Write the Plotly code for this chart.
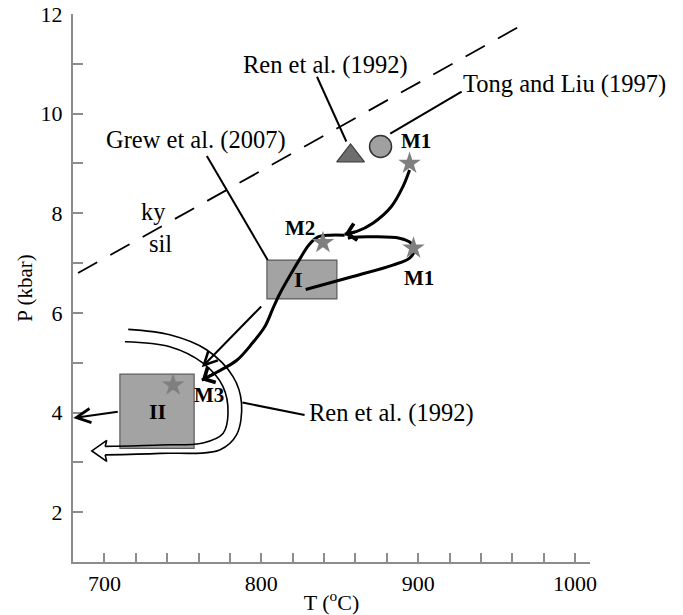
import plotly.graph_objects as go

# ---------------- data (T in °C, P in kbar) ----------------
x_major = [700, 800, 900, 1000]
x_minor = [720, 740, 760, 780, 820, 840, 860, 880, 920, 940, 960, 980]
y_major = [2, 4, 6, 8, 10, 12]
y_minor = [3, 5, 7, 9, 11]

ky_sil_T = [683.2, 969.6]
ky_sil_P = [6.80, 11.84]

box_I_T = [803.6, 848.2]
box_I_P = [6.28, 7.06]
box_II_T = [709.9, 757.2]
box_II_P = [3.28, 4.77]

star_T = [894.5, 897.0, 839.3, 743.8]
star_P = [9.00, 7.30, 7.41, 4.55]
star_names = ["M1", "M1", "M2", "M3"]
star_label_T = [898.9, 900.2, 824.9, 766.5]
star_label_P = [9.45, 6.71, 7.71, 4.35]

ren_tri_T = [856.9]
ren_tri_P = [9.15]
tong_T = [876.0]
tong_P = [9.34]

# leader lines
ren_lead_T = [835.5, 854.2]
ren_lead_P = [10.74, 9.44]
tong_lead_T = [882.2, 927.7]
tong_lead_P = [9.60, 10.44]
grew_lead_T = [765.3, 804.1]
grew_lead_P = [9.15, 7.06]
ren2_lead_T = [788.0, 827.6]
ren2_lead_P = [4.20, 3.95]

# P-T path segments
p1_T = [894.5, 890.2, 882.8, 871.1, 860.5, 853.1]
p1_P = [8.87, 8.53, 8.13, 7.80, 7.63, 7.58]
loop_T = [828.3, 858.4, 883.8, 894.5, 897.6, 895.5, 888.1, 871.1, 858.4, 855.2]
loop_P = [6.47, 6.73, 6.96, 7.10, 7.26, 7.40, 7.50, 7.53, 7.52, 7.50]
s_T = [853.1, 843.5, 835.9, 830.2, 824.5, 818.1, 811.7, 807.3, 802.2, 794.5, 784.4, 771.6, 762.1]
s_P = [7.56, 7.56, 7.52, 7.36, 7.08, 6.74, 6.38, 6.08, 5.72, 5.40, 5.05, 4.81, 4.65]
thin_T = [800.9, 762.1]
thin_P = [6.16, 4.91]
left_T = [709.5, 680.2]
left_P = [4.02, 3.89]

# Ren et al. (1992) hollow path
ren_out_T = [715.2, 741.7, 765.1, 782.0, 787.4, 784.2, 773.5, 735.4, 700.5]
ren_out_P = [5.67, 5.56, 5.26, 4.72, 4.19, 3.55, 3.25, 3.18, 3.15]
ren_in_T = [713.1, 741.7, 762.9, 775.6, 778.8, 775.6, 762.9, 735.4, 700.5]
ren_in_P = [5.42, 5.32, 4.99, 4.52, 3.98, 3.58, 3.39, 3.35, 3.32]
ren_head_T = [700.5, 701.5, 692.0, 701.5, 700.5]
ren_head_P = [3.32, 3.44, 3.23, 3.02, 3.15]

labels = [
    ("Ren et al. (1992)", 840.9, 10.98, "center"),
    ("Tong and Liu (1997)", 993.1, 10.60, "center"),
    ("Grew et al. (2007)", 758.3, 9.47, "center"),
    ("ky", 731.5, 8.04, "center"),
    ("sil", 736.0, 7.40, "center"),
    ("Ren et al. (1992)", 828.9, 3.99, "left"),
]
roman = [("I", 824.0, 6.68), ("II", 734.1, 4.02)]

# ---------------- figure ----------------
FONT = "Liberation Serif"
AX = "#8c8c8c"
fig = go.Figure()

for (t, p) in [(box_I_T, box_I_P), (box_II_T, box_II_P)]:
    fig.add_shape(type="rect", xref="x", yref="y", x0=t[0], x1=t[1], y0=p[0], y1=p[1],
                  fillcolor="#a3a3a3", line=dict(color="#5a5a5a", width=1.2), layer="below")

def line(t, p, width=2, dash=None, shape="linear", color="black"):
    fig.add_trace(go.Scatter(x=t, y=p, mode="lines", hoverinfo="skip",
                             line=dict(color=color, width=width, dash=dash, shape=shape, smoothing=1.0)))

line(ky_sil_T, ky_sil_P, width=1.8, dash="22px,15px")
for t, p in [(ren_lead_T, ren_lead_P), (tong_lead_T, tong_lead_P),
             (grew_lead_T, grew_lead_P), (ren2_lead_T, ren2_lead_P)]:
    line(t, p, width=2)

line(ren_out_T, ren_out_P, width=1.6, shape="spline")
line(ren_in_T, ren_in_P, width=1.6, shape="spline")
line(ren_head_T, ren_head_P, width=1.6)

line(p1_T, p1_P, width=3, shape="spline")
line(loop_T, loop_P, width=3, shape="spline")
line(s_T, s_P, width=3, shape="spline")

fig.add_trace(go.Scatter(x=ren_tri_T, y=ren_tri_P, mode="markers", hoverinfo="skip",
                         marker=dict(symbol="triangle-up", size=24, color="#6e6e6e",
                                     line=dict(color="#3a3a3a", width=1.2))))
fig.add_trace(go.Scatter(x=tong_T, y=tong_P, mode="markers", hoverinfo="skip",
                         marker=dict(symbol="circle", size=22, color="#a0a0a0",
                                     line=dict(color="#333333", width=1.5))))
fig.add_trace(go.Scatter(x=star_T, y=star_P, mode="markers", hoverinfo="skip",
                         marker=dict(symbol="star", size=17, color="#7f7f7f")))

# arrows
def arrow(tip_t, tip_p, tail_t, tail_p, width, head=5, size=1.2):
    fig.add_annotation(x=tip_t, y=tip_p, ax=tail_t, ay=tail_p, xref="x", yref="y",
                       axref="x", ayref="y", showarrow=True, arrowhead=head,
                       arrowsize=size, arrowwidth=width, arrowcolor="black", text="")

arrow(p1_T[-1], p1_P[-1], p1_T[-2], p1_P[-2], 3, head=4, size=1.1)
arrow(loop_T[-1], loop_P[-1], loop_T[-2], loop_P[-2], 3, head=4, size=1.1)
arrow(s_T[-1], s_P[-1], s_T[-2], s_P[-2], 3, head=4, size=1.1)
arrow(thin_T[1], thin_P[1], thin_T[0], thin_P[0], 2, head=5, size=1.3)
arrow(left_T[1], left_P[1], left_T[0], left_P[0], 2, head=5, size=1.4)

for txt, t, p, anchor in labels:
    fig.add_annotation(x=t, y=p, xref="x", yref="y", text=txt, showarrow=False,
                       xanchor=anchor, yanchor="middle",
                       font=dict(family=FONT, size=24.5, color="black"))
for name, t, p in zip(star_names, star_label_T, star_label_P):
    fig.add_annotation(x=t, y=p, xref="x", yref="y", text="<b>%s</b>" % name, showarrow=False,
                       xanchor="center", yanchor="middle",
                       font=dict(family=FONT, size=21, color="black"))
for txt, t, p in roman:
    fig.add_annotation(x=t, y=p, xref="x", yref="y", text="<b>%s</b>" % txt, showarrow=False,
                       xanchor="center", yanchor="middle",
                       font=dict(family=FONT, size=22, color="black"))

fig.update_layout(
    width=683, height=615,
    margin=dict(l=73, r=93, t=14, b=53, autoexpand=False),
    paper_bgcolor="white", plot_bgcolor="white", showlegend=False,
    font=dict(family=FONT, size=22, color="black"),
    xaxis=dict(range=[680, 1009.5], showline=True, linecolor=AX, linewidth=2,
               showgrid=False, zeroline=False, ticks="inside", ticklen=9, tickwidth=1.5,
               tickcolor=AX, tickmode="array", tickvals=x_major,
               ticktext=[str(v) for v in x_major], ticklabelstandoff=1,
               minor=dict(tickmode="array", tickvals=x_minor, ticks="inside", ticklen=9,
                          tickwidth=1.5, tickcolor=AX),
               title=dict(text="T (<sup>o</sup>C)", standoff=2,
                          font=dict(family=FONT, size=22))),
    yaxis=dict(range=[1, 12], showline=True, linecolor=AX, linewidth=2,
               showgrid=False, zeroline=False, ticks="inside", ticklen=10, tickwidth=1.5,
               tickcolor=AX, tickmode="array", tickvals=y_major,
               ticktext=[str(v) for v in y_major], ticklabelstandoff=4,
               minor=dict(tickmode="array", tickvals=y_minor, ticks="inside", ticklen=10,
                          tickwidth=1.5, tickcolor=AX),
               title=dict(text="P (kbar)", standoff=2, font=dict(family=FONT, size=21))),
)

fig.write_html("out.html")
